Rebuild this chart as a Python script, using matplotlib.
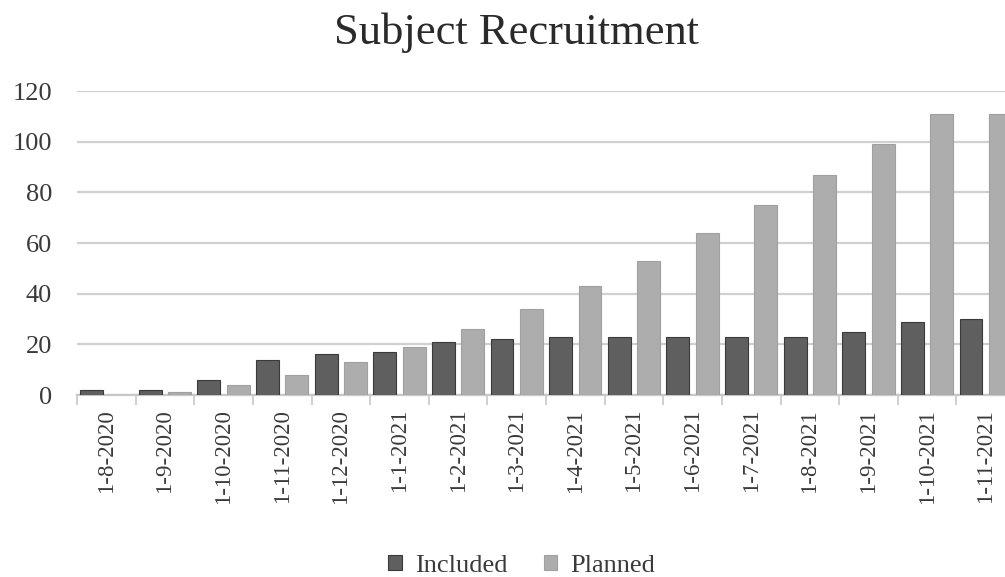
import numpy as np
import matplotlib
matplotlib.use("Agg")
import matplotlib.pyplot as plt

# ── data ────────────────────────────────────────────────────────────────────
months = ["1-8-2020", "1-9-2020", "1-10-2020", "1-11-2020", "1-12-2020",
          "1-1-2021", "1-2-2021", "1-3-2021", "1-4-2021", "1-5-2021",
          "1-6-2021", "1-7-2021", "1-8-2021", "1-9-2021", "1-10-2021",
          "1-11-2021"]
included = [2, 2, 6, 14, 16, 17, 21, 22, 23, 23, 23, 23, 23, 25, 29, 30]
planned = [0, 1, 4, 8, 13, 19, 26, 34, 43, 53, 64, 75, 87, 99, 111, 111]
y_ticks = [0, 20, 40, 60, 80, 100, 120]

plt.rcParams["font.family"] = ["Liberation Serif", "DejaVu Serif"]

W, H = 1005, 577
fig = plt.figure(figsize=(W / 100, H / 100), dpi=100)
# axes run slightly past the right edge, like the cropped original
left, right, top, bottom = 77, 1015, 91, 395
ax = fig.add_axes([left / W, 1 - bottom / H, (right - left) / W, (bottom - top) / H])

x = np.arange(len(months))
bw = 0.39
ax.bar(x - 0.25, included, bw, color="#5f5f5f", edgecolor="#3a3a3a", lw=0.8,
       label="Included", zorder=3)
ax.bar(x + 0.25, planned, bw, color="#adadad", edgecolor="#a0a0a0", lw=0.8,
       label="Planned", zorder=3)

ax.set_xlim(-0.5, len(months) - 0.5)
ax.set_ylim(0, 120)
ax.set_yticks(y_ticks)
ax.tick_params(axis="y", length=0, labelsize=19, pad=18, colors="#3a3a3a")
ax.yaxis.grid(True, color="#d0d0d0", lw=1.6, zorder=0)

# category labels centred, tick marks on the boundaries
ax.set_xticks(x)
ax.set_xticklabels(months, rotation=90, fontsize=16.5, color="#3a3a3a")
ax.tick_params(axis="x", which="major", length=0, pad=10)
ax.set_xticks(np.arange(len(months) + 1) - 0.5, minor=True)
ax.tick_params(axis="x", which="minor", length=7, width=1.2, color="#c8c8c8")

for s in ["left", "right", "top"]:
    ax.spines[s].set_visible(False)
ax.spines["bottom"].set_color("#c8c8c8")
ax.spines["bottom"].set_linewidth(1.6)

fig.text(517 / W, 1 - 33 / H, "Subject Recruitment", ha="center", va="center",
         fontsize=32, color="#2a2a2a")

fig.legend(loc="center", bbox_to_anchor=(522 / W, 1 - 566 / H), ncol=2,
           frameon=False, fontsize=19, handlelength=0.5, handleheight=0.5,
           handletextpad=0.5, columnspacing=1.4, labelcolor="#3a3a3a")

fig.savefig("out.png", dpi=100)
